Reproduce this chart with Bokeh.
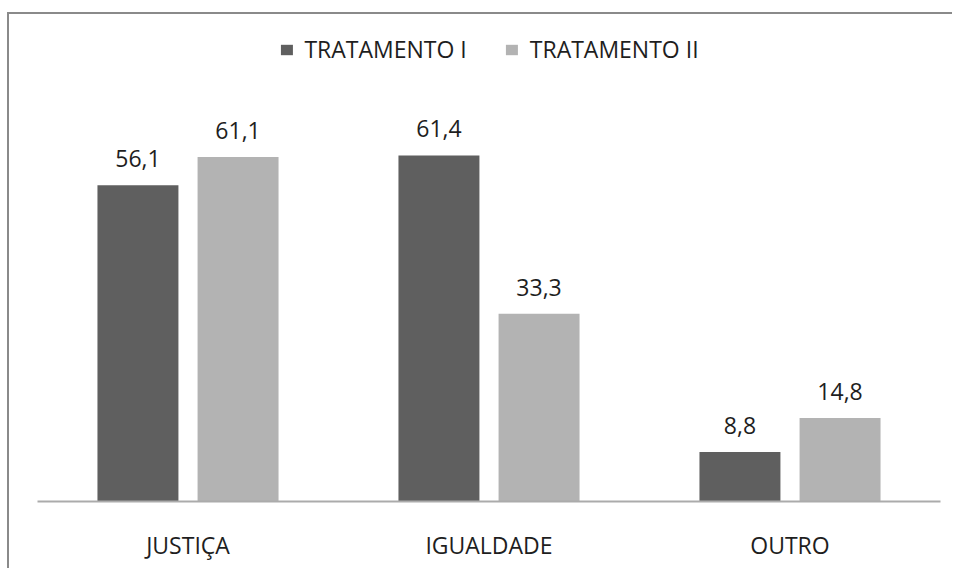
from bokeh.plotting import figure
from bokeh.models import ColumnDataSource, FactorRange, Range1d, LabelSet, Legend, LegendItem
from bokeh.transform import dodge
from bokeh.core.properties import value
from bokeh.embed import file_html
from bokeh.resources import INLINE

categories = ["JUSTIÇA", "IGUALDADE", "OUTRO"]
series_names = ["TRATAMENTO I", "TRATAMENTO II"]
tratamento_1 = [56.1, 61.4, 8.8]
tratamento_2 = [61.1, 33.3, 14.8]

def fmt(v):
    return f"{v:.1f}".replace(".", ",")

src = ColumnDataSource(dict(
    cat=categories,
    t1=tratamento_1,
    t2=tratamento_2,
    t1_lbl=[fmt(v) for v in tratamento_1],
    t2_lbl=[fmt(v) for v in tratamento_2],
))

FONT = "Open Sans"
DARK = "#5f5f5f"
LIGHT = "#b3b3b3"
TXT = "#1e1e1e"

p = figure(width=945, height=556, output_backend="svg", toolbar_location=None,
           x_range=FactorRange(*categories, range_padding=0),
           y_range=Range1d(0, 86.4), y_axis_location=None,
           min_border_left=28, min_border_right=14, min_border_top=0, min_border_bottom=69)
p.margin = (12, 0, 0, 7)
p.styles = {"border-left": "2px solid #8a8a8a", "border-top": "2px solid #8a8a8a"}

off = 0.1663
w = 0.269
r1 = p.vbar(x=dodge("cat", -off, range=p.x_range), top="t1", width=w, source=src,
            fill_color=DARK, line_color=None)
r2 = p.vbar(x=dodge("cat", off, range=p.x_range), top="t2", width=w, source=src,
            fill_color=LIGHT, line_color=None)

for col, lbl, o in (("t1", "t1_lbl", -off), ("t2", "t2_lbl", off)):
    ls = LabelSet(x=dodge("cat", o, range=p.x_range), y=col, text=lbl, source=src,
                  text_align="center", text_baseline="alphabetic", y_offset=18,
                  text_font=value(FONT), text_font_size="23px", text_color=TXT)
    p.add_layout(ls)

legend = Legend(items=[LegendItem(label=series_names[0], renderers=[r1]),
                       LegendItem(label=series_names[1], renderers=[r2])],
                orientation="horizontal", location="top_center",
                label_text_font=FONT, label_text_font_size="23px", label_text_color=TXT,
                glyph_width=15, glyph_height=13, label_standoff=11, spacing=37,
                padding=0, margin=19, border_line_color=None, background_fill_alpha=0)
p.add_layout(legend)

p.xaxis.axis_line_color = "#ababab"
p.xaxis.axis_line_width = 2
p.xaxis.major_tick_line_color = None
p.xaxis.minor_tick_line_color = None
p.xaxis.major_label_standoff = 21
p.xaxis.major_label_text_font = FONT
p.xaxis.major_label_text_font_size = "23px"
p.xaxis.major_label_text_color = TXT
p.xgrid.grid_line_color = None
p.ygrid.grid_line_color = None
p.outline_line_color = None
p.background_fill_color = "white"
p.border_fill_color = "white"

open("out.html", "w").write(file_html(p, INLINE))
